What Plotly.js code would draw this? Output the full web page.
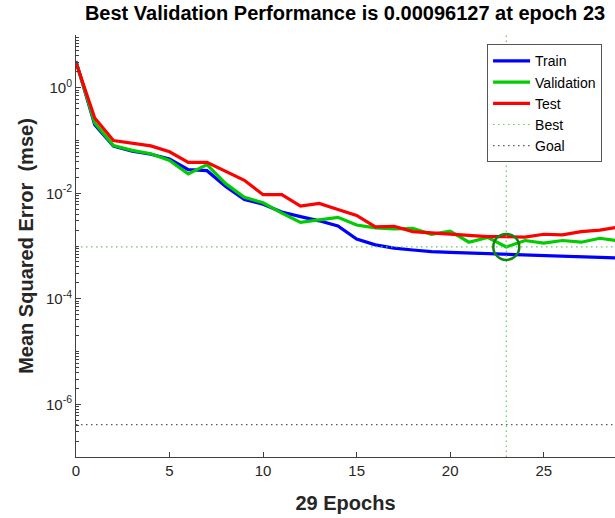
<!DOCTYPE html>
<html>
<head>
<meta charset="utf-8">
<script src="https://cdn.plot.ly/plotly-3.0.1.min.js"></script>
<style>
  html, body { margin: 0; padding: 0; background: #fff; overflow: hidden; }
  #chart { width: 615px; height: 518px; }
</style>
</head>
<body>
<div id="chart"></div>
<script>
// Training record: mean squared error per epoch
const epochs = [0,1,2,3,4,5,6,7,8,9,10,11,12,13,14,15,16,17,18,19,20,21,22,23,24,25,26,27,28,29];
const trainPerf = [3.2, 0.20, 0.078, 0.063, 0.055, 0.0446, 0.028, 0.0268, 0.0135, 0.0076,
                   0.0062, 0.0044, 0.0036, 0.0030, 0.0024, 0.00136, 0.00105, 0.00091, 0.00084, 0.00078,
                   0.00076, 0.00074, 0.00073, 0.00071, 0.00069, 0.00067, 0.00065, 0.00063, 0.00061, 0.00059];
const valPerf = [3.1, 0.214, 0.080, 0.065, 0.056, 0.042, 0.0232, 0.0348, 0.0152, 0.0084,
                 0.0066, 0.0042, 0.0028, 0.0031, 0.0035, 0.0025, 0.0022, 0.0021, 0.00215, 0.00167,
                 0.00192, 0.00118, 0.00146, 0.00096127, 0.00127, 0.00113, 0.00127, 0.00118, 0.0014, 0.00125];
const testPerf = [3.0, 0.267, 0.100, 0.090, 0.079, 0.061, 0.0385, 0.0385, 0.026, 0.0176,
                  0.0094, 0.0094, 0.0057, 0.0064, 0.0049, 0.0038, 0.0023, 0.00236, 0.00187, 0.00176,
                  0.0017, 0.00155, 0.0015, 0.0015, 0.00147, 0.00167, 0.00162, 0.00187, 0.002, 0.0023];
const bestEpoch = 23;
const bestPerf = 0.00096127;
const goalPerf = 4.1e-7;
const yMinExp = -7, yMaxExp = 1;

// log-axis ticks: labelled majors on even decades, minors elsewhere
const majorVals = [], majorText = [], minorVals = [];
for (let e = yMinExp; e <= yMaxExp; e++) {
  if (e % 2 === 0) { majorVals.push(Math.pow(10, e)); majorText.push('10<sup>' + e + '</sup>'); }
  else minorVals.push(Math.pow(10, e));
  if (e < yMaxExp) for (let m = 2; m <= 9; m++) minorVals.push(m * Math.pow(10, e));
}

const font = 'Liberation Sans, Arial, Helvetica, sans-serif';
const yLo = Math.pow(10, yMinExp), yHi = Math.pow(10, yMaxExp);

const traces = [
  { x: epochs, y: trainPerf, name: 'Train', mode: 'lines',
    line: { color: 'rgb(0,0,255)', width: 3.2 } },
  { x: epochs, y: valPerf, name: 'Validation', mode: 'lines',
    line: { color: 'rgb(0,204,0)', width: 3.2 } },
  { x: epochs, y: testPerf, name: 'Test', mode: 'lines',
    line: { color: 'rgb(255,0,0)', width: 3.2 } },
  { x: [0, 29, null, bestEpoch, bestEpoch], y: [bestPerf, bestPerf, null, yLo, yHi],
    name: 'Best', mode: 'lines',
    line: { color: 'rgb(100,200,100)', width: 1.2, dash: '1.5px,3.5px' } },
  { x: [0, 29], y: [goalPerf, goalPerf], name: 'Goal', mode: 'lines',
    line: { color: 'rgb(90,90,90)', width: 1.2, dash: '1.5px,3.5px' } },
  { x: [bestEpoch], y: [bestPerf], mode: 'markers', showlegend: false,
    marker: { symbol: 'circle-open', size: 26, color: 'rgb(20,130,20)', line: { width: 2.5 } } }
];

const layout = {
  width: 615, height: 518,
  margin: { l: 76, r: 0, t: 35, b: 60.5 },
  paper_bgcolor: '#fff', plot_bgcolor: '#fff',
  font: { family: font, color: '#262626' },
  showlegend: true,
  title: {
    text: '<b>Best Validation Performance is 0.00096127 at epoch 23</b>',
    font: { family: font, size: 20, color: '#000' },
    x: 0.561, xanchor: 'center', y: 0.988, yanchor: 'top'
  },
  xaxis: {
    range: [0, 28.81], showgrid: false, zeroline: false,
    showline: true, linecolor: '#404040', linewidth: 1,
    ticks: 'inside', ticklen: 5, tickcolor: '#404040',
    tickmode: 'array', tickvals: [0, 5, 10, 15, 20, 25],
    tickfont: { size: 15, color: '#262626' },
    title: { text: '<b>29 Epochs</b>', font: { size: 20, color: '#262626' }, standoff: 17 }
  },
  yaxis: {
    type: 'log', range: [yMinExp, yMaxExp], showgrid: false, zeroline: false,
    showline: true, linecolor: '#404040', linewidth: 1,
    ticks: 'inside', ticklen: 5, tickcolor: '#404040',
    tickmode: 'array', tickvals: majorVals, ticktext: majorText,
    tickfont: { size: 15, color: '#262626' },
    minor: { tickmode: 'array', tickvals: minorVals, ticks: 'inside', ticklen: 3, tickcolor: '#404040', showgrid: false },
    title: { text: '<b>Mean Squared Error  (mse)</b>', font: { size: 20, color: '#262626' }, standoff: 6 }
  },
  legend: {
    x: 0.976, xanchor: 'right', y: 0.978, yanchor: 'top',
    bgcolor: '#fff', bordercolor: '#555', borderwidth: 1,
    font: { family: font, size: 14, color: '#000' },
    itemwidth: 37, tracegroupgap: 0
  }
};

Plotly.newPlot('chart', traces, layout, { displayModeBar: false, staticPlot: true });
</script>
</body>
</html>
